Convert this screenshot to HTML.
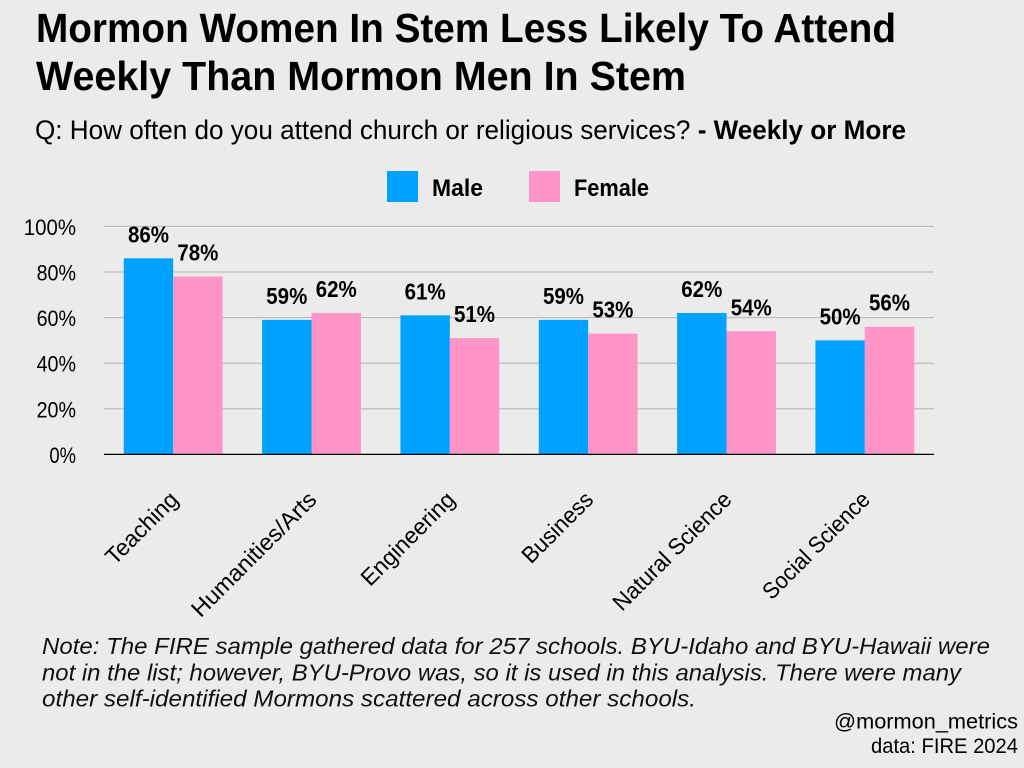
<!DOCTYPE html>
<html lang="en">
<head>
<meta charset="utf-8">
<title>Mormon Women In Stem Less Likely To Attend Weekly Than Mormon Men In Stem</title>
<style>
html,body{margin:0;padding:0;background:#ebebeb;}
svg{display:block;font-family:"Liberation Sans",sans-serif;}
</style>
</head>
<body>
<svg id="chart" xmlns="http://www.w3.org/2000/svg" width="1024" height="768" viewBox="0 0 1024 768">
<rect x="0" y="0" width="1024" height="768" fill="#ebebeb"/>
<text x="36" y="42" font-size="41" font-weight="700" fill="#000" textLength="860" lengthAdjust="spacingAndGlyphs">Mormon Women In Stem Less Likely To Attend</text>
<text x="36" y="90" font-size="41" font-weight="700" fill="#000" textLength="650" lengthAdjust="spacingAndGlyphs">Weekly Than Mormon Men In Stem</text>
<text x="35" y="139" font-size="27" fill="#000" textLength="871" lengthAdjust="spacingAndGlyphs">Q: How often do you attend church or religious services? <tspan font-weight="700">- Weekly or More</tspan></text>
<rect x="387" y="171" width="31" height="31" fill="#00a2ff"/>
<text x="432" y="196" font-size="24" font-weight="700" fill="#000" textLength="51" lengthAdjust="spacingAndGlyphs">Male</text>
<rect x="529" y="171" width="31" height="31" fill="#ff94c6"/>
<text x="574" y="196" font-size="24" font-weight="700" fill="#000" textLength="75" lengthAdjust="spacingAndGlyphs">Female</text>
<g id="plot"></g>
<g font-size="23.5" font-style="italic" fill="#111">
<text x="42" y="654" textLength="948" lengthAdjust="spacingAndGlyphs">Note: The FIRE sample gathered data for 257 schools. BYU-Idaho and BYU-Hawaii were</text>
<text x="42" y="680.5" textLength="919" lengthAdjust="spacingAndGlyphs">not in the list; however, BYU-Provo was, so it is used in this analysis. There were many</text>
<text x="42" y="706.5" textLength="654" lengthAdjust="spacingAndGlyphs">other self-identified Mormons scattered across other schools.</text>
</g>
<text x="1018" y="728.5" font-size="21" fill="#000" text-anchor="end" textLength="184" lengthAdjust="spacingAndGlyphs">@mormon_metrics</text>
<text x="1018" y="753" font-size="21" fill="#000" text-anchor="end" textLength="147" lengthAdjust="spacingAndGlyphs">data: FIRE 2024</text>
</svg>
<script>
const categories = ["Teaching", "Humanities/Arts", "Engineering", "Business", "Natural Science", "Social Science"];
const maleValues = [86, 59, 61, 59, 62, 50];
const femaleValues = [78, 62, 51, 53, 54, 56];
const yTicks = [0, 20, 40, 60, 80, 100];

const NS = "http://www.w3.org/2000/svg";
const plot = document.getElementById("plot");
const plotLeft = 104, plotRight = 934, baseY = 454.4, topY = 226.4;
const step = (plotRight - plotLeft) / categories.length;
const barW = 49.4;
const labelLen = {"Teaching":92,"Humanities/Arts":166,"Engineering":122,"Business":90,"Natural Science":157,"Social Science":141};

function yScale(v) { return baseY - (v / 100) * (baseY - topY); }
function xCenter(i) { return plotLeft + step * (i + 0.5); }
function make(tag, attrs, parent) {
  const el = document.createElementNS(NS, tag);
  for (const k in attrs) el.setAttribute(k, attrs[k]);
  parent.appendChild(el);
  return el;
}

yTicks.forEach(function (t) {
  if (t > 0) {
    const line = make("line", {x1: plotLeft, x2: plotRight, y1: yScale(t), y2: yScale(t), stroke: "#b4b4b4", "stroke-width": 1}, plot);
    
    
  }
  const text = t + "%";
  const label = make("text", {x: 76, y: yScale(t) + 8.5, "font-size": 22.5, "text-anchor": "end", fill: "#000", textLength: text.length * 12.8 + 1, lengthAdjust: "spacingAndGlyphs"}, plot);
  
  
  label.textContent = text;
});

function drawSeries(values, side, color, seriesName) {
  values.forEach(function (v, i) {
    const x = side < 0 ? xCenter(i) - barW : xCenter(i);
    const bar = make("rect", {x: x, y: yScale(v), width: barW, height: baseY - yScale(v), fill: color}, plot);
    
    
    const val = make("text", {x: x + barW / 2, y: yScale(v) - 16, "font-size": 23, "font-weight": 700, "text-anchor": "middle", fill: "#000", textLength: 41, lengthAdjust: "spacingAndGlyphs"}, plot);
    
    
    val.textContent = v + "%";
  });
}
drawSeries(maleValues, -1, "#00a2ff", "male");
drawSeries(femaleValues, 1, "#ff94c6", "female");

const axis = make("line", {x1: plotLeft, x2: plotRight, y1: baseY, y2: baseY, stroke: "#000", "stroke-width": 1.2}, plot);



categories.forEach(function (c, i) {
  const ax = xCenter(i) + 6.5, ay = 501;
  const label = make("text", {x: ax, y: ay, "font-size": 23, "text-anchor": "end", fill: "#000", transform: "rotate(-45 " + ax + " " + ay + ")", textLength: labelLen[c], lengthAdjust: "spacingAndGlyphs"}, plot);
  
  
  label.textContent = c;
});
</script>
</body>
</html>
